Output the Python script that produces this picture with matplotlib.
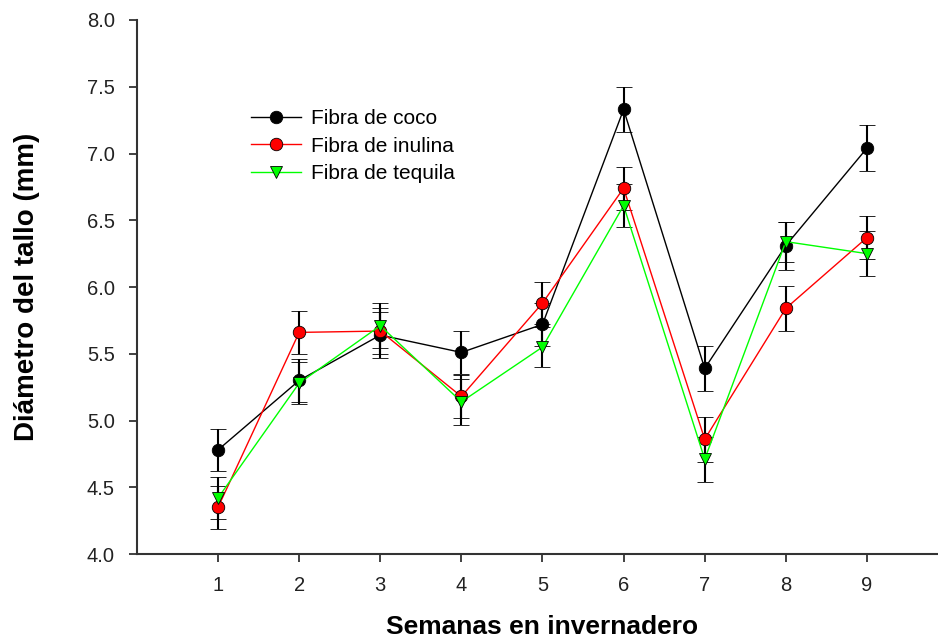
import matplotlib
matplotlib.use("Agg")
from matplotlib import pyplot as plt

plt.rcParams['font.family'] = ['Liberation Sans', 'DejaVu Sans']

weeks = [1, 2, 3, 4, 5, 6, 7, 8, 9]

coco = [4.78, 5.30, 5.64, 5.51, 5.72, 7.33, 5.39, 6.31, 7.04]
coco_err = [0.16, 0.16, 0.17, 0.16, 0.16, 0.17, 0.17, 0.18, 0.17]

inulina = [4.35, 5.66, 5.67, 5.18, 5.88, 6.74, 4.86, 5.84, 6.37]
inulina_err = [0.16, 0.16, 0.17, 0.16, 0.16, 0.16, 0.17, 0.17, 0.16]

tequila = [4.42, 5.28, 5.71, 5.14, 5.55, 6.61, 4.71, 6.34, 6.25]
tequila_err = [0.16, 0.16, 0.17, 0.17, 0.15, 0.16, 0.17, 0.15, 0.17]

series = [
    ('Fibra de coco', coco, coco_err, 'black', 'o'),
    ('Fibra de inulina', inulina, inulina_err, 'red', 'o'),
    ('Fibra de tequila', tequila, tequila_err, '#00ff00', 'v'),
]

fig = plt.figure(figsize=(9.38, 6.41), dpi=100)
ax = fig.add_axes([0.146, 0.1357, 0.8647, 0.8331])

for label, vals, errs, color, marker in series:
    ax.errorbar(weeks, vals, yerr=errs, color=color, ecolor='black',
                elinewidth=1.5, capsize=6, capthick=1.5, linewidth=1.0,
                marker=marker, markersize=9, markerfacecolor=color,
                markeredgecolor='black', markeredgewidth=0.6, label=label)

ax.set_xlim(0, 10)
ax.set_ylim(4.0, 8.0)
ax.set_xticks(weeks)
ax.set_yticks([4.0, 4.5, 5.0, 5.5, 6.0, 6.5, 7.0, 7.5, 8.0])
ax.set_yticklabels([f'{v:.1f}' for v in ax.get_yticks()])

for side in ('top', 'right'):
    ax.spines[side].set_visible(False)
for side in ('left', 'bottom'):
    ax.spines[side].set_linewidth(1.5)
    ax.spines[side].set_color('#333333')

ax.tick_params(direction='out', length=6, width=1.3, color='#333333',
               labelsize=14.5, labelcolor='#222222')
ax.tick_params(axis='y', pad=10)
ax.tick_params(axis='x', pad=9.5)

ax.set_xlabel('Semanas en invernadero', fontsize=19, fontweight='bold', labelpad=15)
ax.set_ylabel('Diámetro del tallo (mm)', fontsize=20, fontweight='bold', labelpad=34)

handles, labels = ax.get_legend_handles_labels()
handles = [h[0] for h in handles]
ax.legend(handles, labels, loc='center left', bbox_to_anchor=(0.117, 0.764),
          frameon=False, fontsize=15, handlelength=2.4, handletextpad=0.5,
          labelspacing=0.4, borderpad=0.4)

fig.savefig('out.png', dpi=100)
